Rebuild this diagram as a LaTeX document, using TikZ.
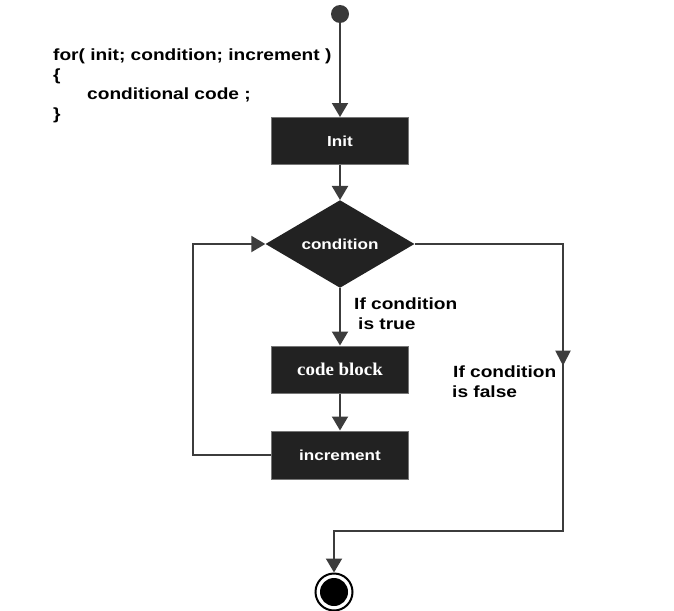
\documentclass[tikz,border=0pt]{standalone}
\usepackage{fontspec}
\setmainfont{Liberation Sans}[FakeStretch=1.18]
\newfontfamily\cbfont{Liberation Serif}[FakeStretch=1.05]
\usetikzlibrary{shapes.geometric,arrows.meta,decorations.markings}
\definecolor{ln}{HTML}{3C3C3C}
\definecolor{bx}{HTML}{222222}
\tikzset{
  boxnode/.style={draw=ln!70, line width=1pt, fill=bx, text=white, minimum width=137pt, minimum height=47pt, inner sep=0pt, font=\fontsize{14.5}{17}\selectfont\bfseries},
  diam/.style={diamond, fill=bx, text=white, minimum width=149pt, minimum height=84pt, inner sep=0pt, font=\fontsize{14.5}{17}\selectfont\bfseries},
  conn/.style={draw=ln, line width=2pt},
  arr/.style={conn, -{Triangle[width=16pt,length=14pt]}, shorten >=0pt},
  lab/.style={align=left, inner sep=0pt, font=\fontsize{16.2}{19.5}\selectfont\bfseries, anchor=north west}
}
\begin{document}
\begin{tikzpicture}[x=1pt,y=-1pt]
\useasboundingbox (0,0) rectangle (674,610);
% code text
\node[lab] (code) at (53,49) {for( init; condition; increment )\\\{\\\hspace{34pt}conditional code ;\\\}};
% start
\node[circle, fill=ln!95!black, minimum size=18pt, inner sep=0pt] (start) at (340,14) {};
\node[boxnode] (init) at (340,141) {Init};
\node[diam] (cond) at (340,244) {condition};
\node[boxnode, font=\fontsize{18}{20}\selectfont\bfseries\cbfont] (cb) at (340,369.5) {code block};
\node[boxnode, minimum height=48pt] (inc) at (340,455) {increment};
\node[circle, draw=black, line width=2pt, fill=white, minimum size=37pt, inner sep=0pt] (stop) at (334,592) {};
\node[circle, fill=black, minimum size=28pt, inner sep=0pt] (stopin) at (stop.center) {};
\coordinate (lc) at (193,455);
\coordinate (rc) at (563,531);
% connectors
\draw[arr] (start) -- (init.north);
\draw[arr] (init.south) -- (cond.north);
\draw[arr] (cond.south) -- (cb.north);
\draw[arr] (cb.south) -- (inc.north);
\draw[arr] (inc.west) -- (lc) |- (cond.west);
\draw[arr, postaction={decorate}, decoration={markings, mark=at position 270pt with {\arrow{Triangle[width=15pt,length=15pt]}}}] (cond.east) -| (rc) -| (stop.north);
% labels
\node[lab] (ltrue) at (354,298) {If condition\\\hspace{4pt}is true};
\node[lab] (lfalse) at (452,366) {\hspace{1pt}If condition\\is false};
\end{tikzpicture}
\end{document}
